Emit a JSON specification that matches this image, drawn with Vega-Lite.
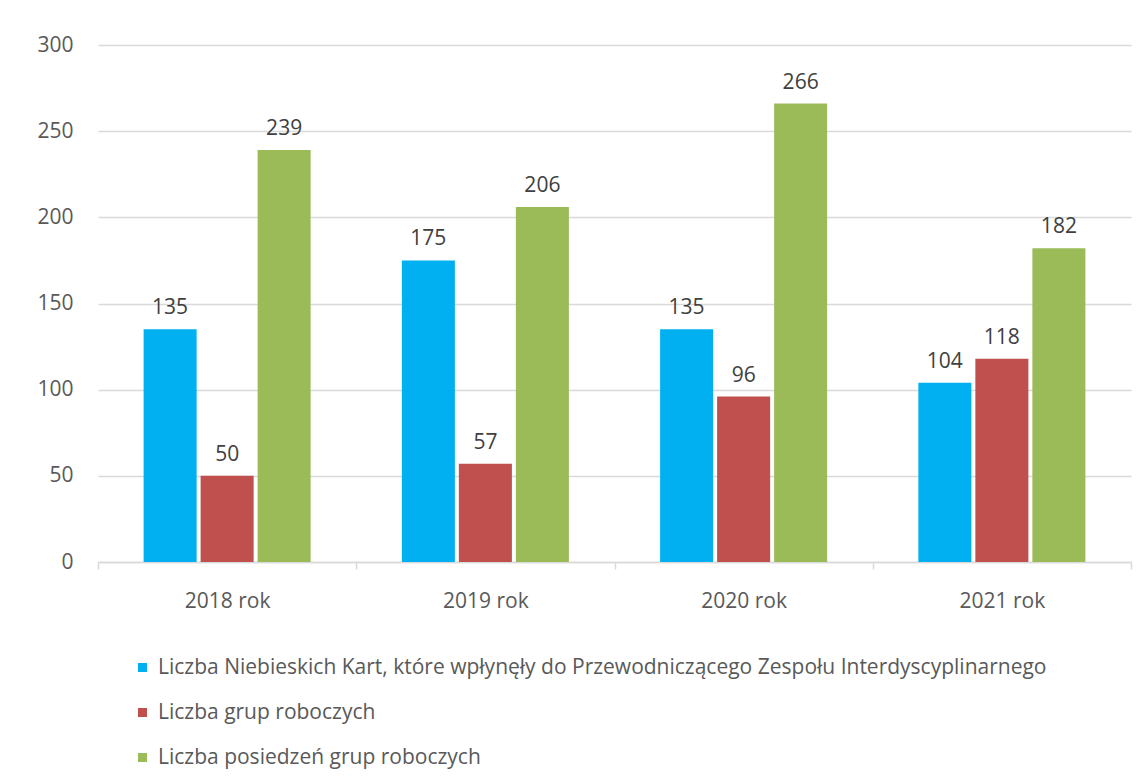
{
  "$schema": "https://vega.github.io/schema/vega-lite/v6.json",
  "autosize": "none",
  "width": 1033,
  "height": 517,
  "padding": {"left": 98, "top": 45, "right": 16, "bottom": 220},
  "background": "white",
  "data": {"values": [
    {"rok": "2018 rok", "seria": "Liczba Niebieskich Kart, które wpłynęły do Przewodniczącego Zespołu Interdyscyplinarnego", "o": 1, "v": 135},
    {"rok": "2018 rok", "seria": "Liczba grup roboczych", "o": 2, "v": 50},
    {"rok": "2018 rok", "seria": "Liczba posiedzeń grup roboczych", "o": 3, "v": 239},
    {"rok": "2019 rok", "seria": "Liczba Niebieskich Kart, które wpłynęły do Przewodniczącego Zespołu Interdyscyplinarnego", "o": 1, "v": 175},
    {"rok": "2019 rok", "seria": "Liczba grup roboczych", "o": 2, "v": 57},
    {"rok": "2019 rok", "seria": "Liczba posiedzeń grup roboczych", "o": 3, "v": 206},
    {"rok": "2020 rok", "seria": "Liczba Niebieskich Kart, które wpłynęły do Przewodniczącego Zespołu Interdyscyplinarnego", "o": 1, "v": 135},
    {"rok": "2020 rok", "seria": "Liczba grup roboczych", "o": 2, "v": 96},
    {"rok": "2020 rok", "seria": "Liczba posiedzeń grup roboczych", "o": 3, "v": 266},
    {"rok": "2021 rok", "seria": "Liczba Niebieskich Kart, które wpłynęły do Przewodniczącego Zespołu Interdyscyplinarnego", "o": 1, "v": 104},
    {"rok": "2021 rok", "seria": "Liczba grup roboczych", "o": 2, "v": 118},
    {"rok": "2021 rok", "seria": "Liczba posiedzeń grup roboczych", "o": 3, "v": 182}
  ]},
  "encoding": {
    "x": {"field": "rok", "type": "nominal", "sort": null,
      "scale": {"paddingInner": 0, "paddingOuter": 0},
      "axis": {"title": null, "labelAngle": 0, "tickBand": "extent",
        "domainColor": "#D9D9D9", "domainWidth": 1.5, "tickColor": "#D9D9D9", "tickWidth": 1.5, "tickSize": 7,
        "labelPadding": 21, "labelFontSize": 21, "labelColor": "#595959", "labelFont": "Open Sans", "grid": false}},
    "xOffset": {"field": "o", "type": "ordinal", "scale": {"paddingInner": 0.07, "paddingOuter": 0.8}},
    "y": {"field": "v", "type": "quantitative",
      "scale": {"domain": [0, 300]},
      "axis": {"title": null, "values": [0, 50, 100, 150, 200, 250, 300], "domain": false, "ticks": false,
        "gridColor": "#D9D9D9", "gridWidth": 1.5, "labelPadding": 25, "labelFontSize": 21, "labelColor": "#595959", "labelFont": "Open Sans"}}
  },
  "layer": [
    {"mark": {"type": "bar"},
     "encoding": {
       "color": {"field": "seria", "type": "nominal", "sort": null,
         "scale": {"domain": ["Liczba Niebieskich Kart, które wpłynęły do Przewodniczącego Zespołu Interdyscyplinarnego", "Liczba grup roboczych", "Liczba posiedzeń grup roboczych"],
                   "range": ["#00B0F0", "#C0504D", "#9BBB59"]},
         "legend": {"title": null, "orient": "none", "legendX": 34, "legendY": 612, "direction": "vertical",
           "symbolType": "square", "symbolSize": 81, "symbolStrokeWidth": 0, "rowPadding": 23,
           "labelFontSize": 21, "labelColor": "#595959", "labelFont": "Open Sans", "labelLimit": 1100, "labelOffset": 5}}
     }},
    {"mark": {"type": "text", "baseline": "bottom", "dy": -11, "fontSize": 21, "color": "#404040", "font": "Open Sans"},
     "encoding": {"text": {"field": "v", "type": "quantitative"}}}
  ],
  "config": {"view": {"stroke": null}}
}
